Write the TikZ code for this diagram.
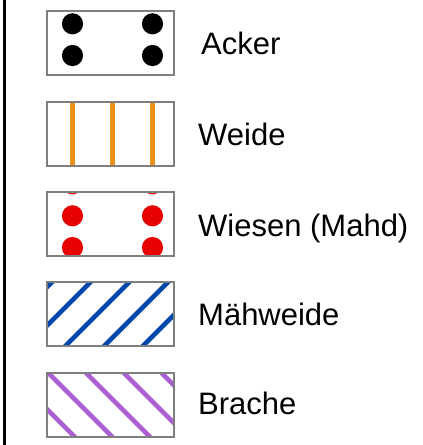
\documentclass[tikz,border=0pt]{standalone}
\usepackage{fontspec}
\setmainfont{Liberation Sans}
\definecolor{boxgray}{RGB}{127,127,127}
\definecolor{ackerdot}{RGB}{0,0,0}
\definecolor{weideorange}{RGB}{235,145,25}
\definecolor{wiesenred}{RGB}{230,0,0}
\definecolor{maehblue}{RGB}{0,71,171}
\definecolor{brachepurple}{RGB}{170,95,210}
\begin{document}
\begin{tikzpicture}[x=1pt,y=-1pt,
  legbox/.style={draw=boxgray, line width=2pt, minimum width=127pt, minimum height=64pt,
    inner sep=0pt, outer sep=0pt, anchor=center},
  lab/.style={anchor=base west, inner sep=0pt, font=\fontsize{31}{37}\selectfont},
  stripe/.style={line width=4.6pt}]
\useasboundingbox (0,0) rectangle (423,445);
\draw[line width=3pt] (4.5,0) -- (4.5,445);

% box outlines (named nodes)
\node[legbox] (b1) at (110,43.4) {};
\node[legbox] (b2) at (110,133.7) {};
\node[legbox] (b3) at (110,224.0) {};
\node[legbox] (b4) at (110,314.3) {};
\node[legbox] (b5) at (110,404.6) {};

% Acker
\begin{scope}
  \clip (b1.south west) rectangle (b1.north east);
  \fill[ackerdot] (72.5,23.8) circle[radius=10.6] (152.5,23.8) circle[radius=10.6]
                  (72.5,55.5) circle[radius=10.6] (152.5,55.5) circle[radius=10.6];
\end{scope}
% Weide
\begin{scope}
  \clip (b2.south west) rectangle (b2.north east);
  \foreach \x in {72.7,112.7,152.7}
    \draw[weideorange, line width=5.3pt] (\x,95) -- (\x,172);
\end{scope}
% Wiesen
\begin{scope}
  \clip (b3.south west) rectangle (b3.north east);
  \foreach \y in {183.8,215.8,247.5}
    \fill[wiesenred] (72.5,\y) circle[radius=10.6] (152.5,\y) circle[radius=10.6];
\end{scope}
% Maehweide
\begin{scope}
  \clip (b4.south west) rectangle (b4.north east);
  \foreach \x in {13.3,52,90.7,129.4,168.1,206.8}
    \draw[maehblue, stripe] (\x+20,262) -- (\x-90,372);
\end{scope}
% Brache
\begin{scope}
  \clip (b5.south west) rectangle (b5.north east);
  \foreach \x in {-27.9,9.8,47.5,85.2,122.9,160.6}
    \draw[brachepurple, stripe] (\x-20,352) -- (\x+90,462);
\end{scope}

% redraw outlines on top
\foreach \b in {b1,b2,b3,b4,b5}
  \draw[boxgray, line width=2pt] (\b.south west) rectangle (\b.north east);

\node[lab] (t1) at (201,54.3) {Acker};
\node[lab] (t2) at (198,145) {Weide};
\node[lab] (t3) at (198,236.7) {Wiesen (Mahd)};
\node[lab] (t4) at (198,325.7) {Mähweide};
\node[lab] (t5) at (198,414.3) {Brache};
\end{tikzpicture}
\end{document}
